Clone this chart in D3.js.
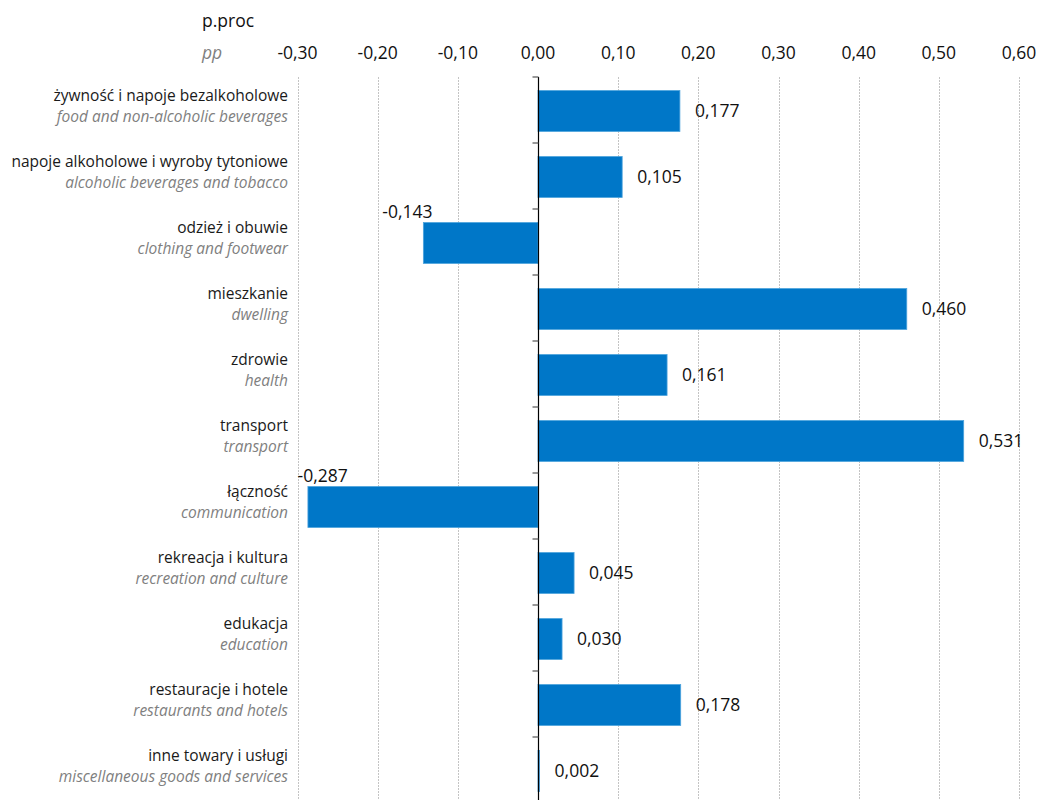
<!DOCTYPE html>
<html><head><meta charset="utf-8">
<script src="https://cdn.jsdelivr.net/npm/d3@7"></script>
<style>
html,body{margin:0;padding:0;background:#fff;}
svg{display:block;font-family:"Open Sans","Noto Sans",sans-serif;}
</style></head>
<body><svg id="c" width="1037" height="800"></svg>
<script>
const categoriesPL = ["żywność i napoje bezalkoholowe","napoje alkoholowe i wyroby tytoniowe","odzież i obuwie","mieszkanie","zdrowie","transport","łączność","rekreacja i kultura","edukacja","restauracje i hotele","inne towary i usługi"];
const categoriesEN = ["food and non-alcoholic beverages","alcoholic beverages and tobacco","clothing and footwear","dwelling","health","transport","communication","recreation and culture","education","restaurants and hotels","miscellaneous goods and services"];
const values = [0.177,0.105,-0.143,0.460,0.161,0.531,-0.287,0.045,0.030,0.178,0.002];
const valueLabels = ["0,177","0,105","-0,143","0,460","0,161","0,531","-0,287","0,045","0,030","0,178","0,002"];
const tickValues = [-0.3,-0.2,-0.1,0,0.1,0.2,0.3,0.4,0.5,0.6];
const tickLabels = ["-0,30","-0,20","-0,10","0,00","0,10","0,20","0,30","0,40","0,50","0,60"];
const unitPL = "p.proc", unitEN = "pp";

const svg = d3.select("#c");
const x = d3.scaleLinear().domain([-0.3,0.6]).range([297.5,1019]);
const y = d3.scaleBand().domain(d3.range(values.length)).range([78,804]).paddingInner(0.38).paddingOuter(0.19);
const step = y.step();

// gridlines
svg.append("g").selectAll("line").data(tickValues.filter(d=>d!==0)).join("line")
  .attr("x1",d=>Math.round(x(d))+0.5).attr("x2",d=>Math.round(x(d))+0.5)
  .attr("y1",77).attr("y2",800)
  .attr("stroke","#c4c4c4").attr("stroke-width",1).attr("stroke-dasharray","2,1");

// tick labels
svg.append("g").selectAll("text").data(tickValues).join("text")
  .attr("x",d=>x(d)).attr("y",59).attr("text-anchor","middle")
  .attr("font-size",17.5).attr("fill","#111")
  .text((d,i)=>tickLabels[i]);

svg.append("text").attr("x",202).attr("y",27).attr("font-size",17.5).attr("fill","#111").text(unitPL);
svg.append("text").attr("x",202).attr("y",59).attr("font-size",17.5).attr("font-style","italic").attr("fill","#808080").text(unitEN);

// bars
svg.append("g").selectAll("rect").data(values).join("rect")
  .attr("x",d=>x(Math.min(0,d))).attr("width",d=>Math.abs(x(d)-x(0)))
  .attr("y",(d,i)=>y(i)).attr("height",y.bandwidth())
  .attr("fill","#0077c8").attr("stroke","#4da3dd").attr("stroke-width",0.8);

// zero axis
const z = Math.round(x(0))+0.5;
svg.append("line").attr("x1",z).attr("x2",z).attr("y1",77).attr("y2",800).attr("stroke","#000").attr("stroke-width",1.2);
svg.append("g").selectAll("line").data(d3.range(values.length+1)).join("line")
  .attr("x1",z-6).attr("x2",z).attr("y1",i=>77+i*step).attr("y2",i=>77+i*step)
  .attr("stroke","#555").attr("stroke-width",1.2);

// category labels
const lab = svg.append("g").selectAll("g").data(values).join("g");
lab.append("text").attr("x",288).attr("y",(d,i)=>y(i)+y.bandwidth()/2-10).attr("text-anchor","end")
  .attr("font-size",15.5).attr("fill","#1a1a1a").text((d,i)=>categoriesPL[i]);
lab.append("text").attr("x",288).attr("y",(d,i)=>y(i)+y.bandwidth()/2+11).attr("text-anchor","end")
  .attr("font-size",15.5).attr("font-style","italic").attr("fill","#7f7f7f").text((d,i)=>categoriesEN[i]);

// value labels
svg.append("g").selectAll("text").data(values).join("text")
  .attr("x",d=>d>=0 ? x(d)+15 : Math.max(x(d)-41, x.range()[0]))
  .attr("y",(d,i)=>d>=0 ? y(i)+y.bandwidth()/2 : y(i)-5)
  .attr("dy",d=>d>=0 ? "0.35em" : 0)
  .attr("font-size",17.5).attr("fill","#111")
  .text((d,i)=>valueLabels[i]);
</script></body></html>
